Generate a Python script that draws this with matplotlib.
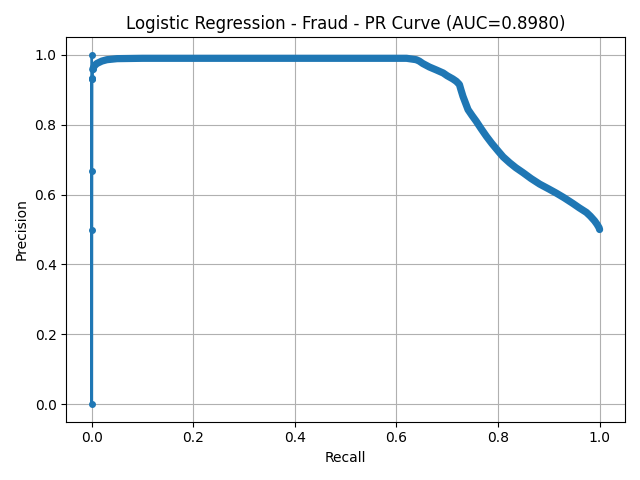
import matplotlib
matplotlib.use('Agg')
import matplotlib.pyplot as plt

# PR curve points (recall descending, as sklearn returns them)
recall = [1.0, 0.999, 0.995, 0.99, 0.982, 0.974, 0.96, 0.947, 0.93, 0.915,
          0.9, 0.882, 0.865, 0.849, 0.835, 0.823, 0.81, 0.8, 0.788, 0.777,
          0.767, 0.757, 0.749, 0.741, 0.736, 0.731, 0.727, 0.724, 0.718, 0.711,
          0.70, 0.692, 0.678, 0.665, 0.652, 0.645, 0.639, 0.62, 0.58, 0.5,
          0.4, 0.3, 0.24, 0.2, 0.1, 0.05, 0.03, 0.02, 0.01, 0.005,
          0.002, 0.001, 0.0008, 0.0005, 0.0003, 0.0002, 0.0, 0.0]
precision = [0.500, 0.505, 0.515, 0.525, 0.538, 0.549, 0.562, 0.575, 0.591, 0.604,
             0.616, 0.630, 0.646, 0.663, 0.677, 0.691, 0.708, 0.725, 0.746, 0.767,
             0.788, 0.810, 0.826, 0.843, 0.862, 0.881, 0.900, 0.915, 0.924, 0.931,
             0.940, 0.948, 0.957, 0.965, 0.975, 0.982, 0.986, 0.990, 0.990, 0.990,
             0.990, 0.990, 0.990, 0.990, 0.990, 0.989, 0.986, 0.982, 0.975, 0.968,
             0.958, 0.930, 0.935, 0.930, 0.667, 0.500, 0.0, 1.0]
pr_auc = 0.8980

# where the dense part of the curve ends and the sparse near-zero tail starts
SPLIT = 51

fig, ax = plt.subplots(figsize=(6.4, 4.8), dpi=100)
color = '#1f77b4'
ax.plot(recall[:SPLIT], precision[:SPLIT], color=color, linewidth=5.2,
        solid_capstyle='round', solid_joinstyle='round')
ax.plot(recall[SPLIT - 1:], precision[SPLIT - 1:], color=color, linewidth=2,
        marker='.', markersize=8)
ax.set_xlabel("Recall")
ax.set_ylabel("Precision")
ax.set_title(f"Logistic Regression - Fraud - PR Curve (AUC={pr_auc:.4f})")
ax.grid(True)
fig.tight_layout()
fig.savefig("out.png")
plt.close(fig)
